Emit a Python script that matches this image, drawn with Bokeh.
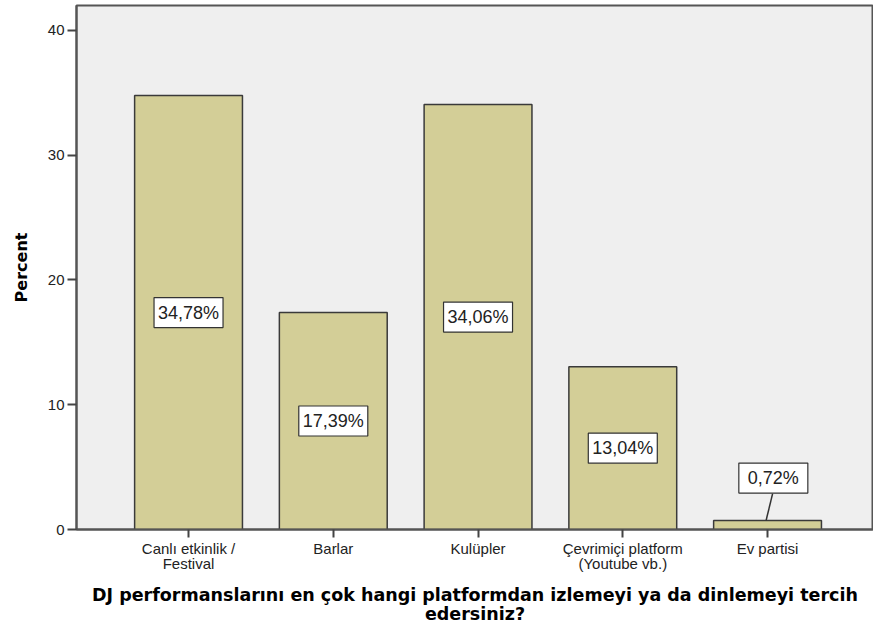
from bokeh.plotting import figure
from bokeh.models import Range1d, FixedTicker, ColumnDataSource
from bokeh.embed import file_html
from bokeh.resources import INLINE
from bokeh.core.properties import value

categories = ["Canlı etkinlik /\nFestival", "Barlar", "Kulüpler", "Çevrimiçi platform\n(Youtube vb.)", "Ev partisi"]
percents = [34.78, 17.39, 34.06, 13.04, 0.72]
value_labels = ["34,78%", "17,39%", "34,06%", "13,04%", "0,72%"]
y_ticks = [0, 10, 20, 30, 40]

FONT = "Liberation Sans"
TITLE_FONT = "DejaVu Sans"
xs = list(range(len(categories)))

p = figure(width=873, height=635, output_backend="svg", toolbar_location=None,
           x_range=Range1d(-0.774, 4.732), y_range=Range1d(0, 42.0),
           min_border_left=76, min_border_right=0, min_border_top=5, min_border_bottom=106)
p.background_fill_color = "#EFEFEF"
p.border_fill_color = "white"
p.outline_line_color = "#555555"
p.outline_line_width = 2
p.grid.visible = False

p.vbar(x=xs, top=percents, bottom=0, width=0.745, fill_color="#D3CE97",
       line_color="#3A3A3A", line_width=1.5)

lab_x, lab_y = [], []
seg = {"x0": [], "y0": [], "x1": [], "y1": []}
for i, v in enumerate(percents):
    if v < 3:
        ly = v + 3.4
        lab_x.append(i + 0.04)
        lab_y.append(ly)
        seg["x0"].append(i - 0.01)
        seg["y0"].append(v)
        seg["x1"].append(i + 0.035)
        seg["y1"].append(ly - 1.25)
    else:
        lab_x.append(i)
        lab_y.append(v / 2)

p.segment(x0=seg["x0"], y0=seg["y0"], x1=seg["x1"], y1=seg["y1"], line_color="#333333", line_width=1.5)

src = ColumnDataSource(dict(x=lab_x, y=lab_y, t=value_labels))
p.rect(x="x", y="y", width=69, height=30, width_units="screen", height_units="screen",
       fill_color="white", line_color="#333333", line_width=1.2, source=src)
p.text(x="x", y="y", text="t", text_align="center", text_baseline="middle",
       text_font=value(FONT), text_font_size="18px", text_color="#222222", source=src)

ya = p.yaxis[0]
ya.ticker = FixedTicker(ticks=y_ticks)
ya.minor_tick_line_color = None
ya.major_tick_out = 9
ya.major_tick_in = 0
ya.major_tick_line_color = "#444444"
ya.major_tick_line_width = 2
ya.axis_line_color = "#555555"
ya.axis_line_width = 2
ya.major_label_text_font = FONT
ya.major_label_text_font_size = "15px"
ya.major_label_text_color = "#222222"
ya.major_label_standoff = 3
ya.axis_label = "Percent"
ya.axis_label_text_font = TITLE_FONT
ya.axis_label_text_font_style = "bold"
ya.axis_label_text_font_size = "16px"
ya.axis_label_text_color = "black"
ya.axis_label_standoff = 14

xa = p.xaxis[0]
xa.ticker = FixedTicker(ticks=xs)
xa.major_label_overrides = {i: c for i, c in enumerate(categories)}
xa.minor_tick_line_color = None
xa.major_tick_out = 8
xa.major_tick_in = 0
xa.major_tick_line_color = "#444444"
xa.major_tick_line_width = 2
xa.axis_line_color = "#555555"
xa.axis_line_width = 2
xa.major_label_text_font = FONT
xa.major_label_text_font_size = "15px"
xa.major_label_text_color = "#222222"
xa.major_label_text_line_height = 0.9
xa.major_label_standoff = 2
xa.axis_label = "DJ performanslarını en çok hangi platformdan izlemeyi ya da dinlemeyi tercih\nedersiniz?"
xa.axis_label_text_font = TITLE_FONT
xa.axis_label_text_font_style = "bold"
xa.axis_label_text_font_size = "17.5px"
xa.axis_label_text_line_height = 0.95
xa.axis_label_text_color = "black"
xa.axis_label_standoff = 10

open("out.html", "w").write(file_html(p, INLINE))
